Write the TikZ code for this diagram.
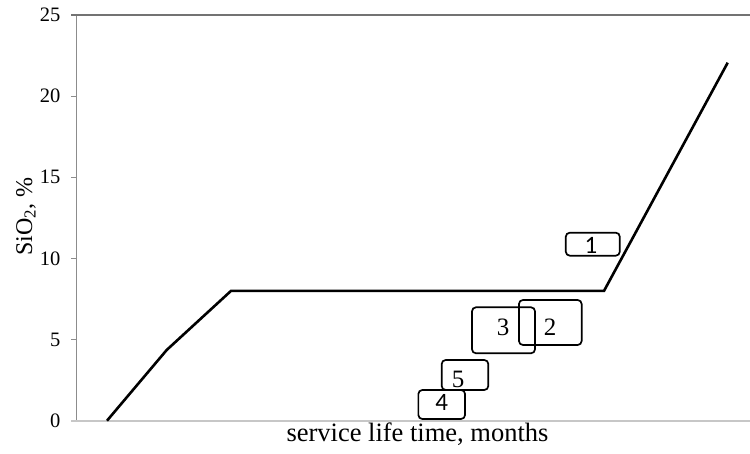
\documentclass[tikz,border=0pt]{standalone}
\usepackage{fontspec}
\setmainfont{Liberation Serif}
\newfontfamily\calib{Carlito}
\begin{document}
\begin{tikzpicture}[x=1pt,y=1pt,
  axisgray/.style={draw=black!45,line width=1pt},
  topline/.style={draw=black!55,line width=1.6pt},
  bottomaxis/.style={draw=black!22,line width=1.8pt},
  tick/.style={draw=black!45,line width=1pt},
  ticklabel/.style={anchor=east,inner sep=0pt,font=\fontsize{20.5}{20.5}\selectfont},
  curve/.style={draw=black,line width=2.6pt,line join=miter},
  numbox/.style={draw=black,line width=1.7pt,rounded corners=4pt,inner sep=0pt},
  numtext/.style={inner sep=0pt,font=\fontsize{25}{25}\selectfont},
  numsans/.style={inner sep=0pt,font=\calib\fontsize{25}{25}\selectfont}]
\useasboundingbox (0,0) rectangle (750,454);
% axes
\coordinate (o) at (76.5,33.3);
\coordinate (ytop) at (76.5,439);
\coordinate (xend) at (750,33.3);
\coordinate (tend) at (750,439);
\draw[axisgray] (o) -- (ytop);
\draw[bottomaxis] (71,33.3) -- (xend);
\draw[topline] (71,439) -- (tend);
\foreach \v in {5,10,15,20} {
  \draw[tick] (71,{33.3+16.228*\v}) -- (76.5,{33.3+16.228*\v});
}
\foreach \v in {0,5,10,15,20,25} {
  \node[ticklabel] (t\v) at (60.5,{33.3+16.228*\v}) {\v};
}
% titles
\node[rotate=90,anchor=base,inner sep=0pt,font=\fontsize{24}{24}\selectfont] (ylab) at (32,237.5) {SiO\textsubscript{2}, \%};
\node[anchor=base,inner sep=0pt,font=\fontsize{26.5}{26.5}\selectfont] (xlab) at (417.5,12) {service life time, months};
% curve
\coordinate (c0) at (107,33.3);
\coordinate (c1) at (166.7,104);
\coordinate (c2) at (231,163.1);
\coordinate (c3) at (604,163.1);
\coordinate (c4) at (727.7,391.3);
\draw[curve] (c0) -- (c1) -- (c2) -- (c3) -- (c4);
% boxes
\node[numbox,minimum width=54pt,minimum height=23pt] (b1) at (592.8,209.8) {};
\node[numsans] (n1) at (591,208.5) {1};
\node[numbox,minimum width=62.7pt,minimum height=45pt] (b2) at (550.3,131.5) {};
\node[numtext] (n2) at (550,126.5) {2};
\node[numbox,minimum width=63pt,minimum height=46pt] (b3) at (503.5,123.7) {};
\node[numtext] (n3) at (503,126.5) {3};
\node[numbox,minimum width=46.6pt,minimum height=30pt] (b5) at (465,79) {};
\node[numtext] (n5) at (458,74.5) {5};
\node[numbox,minimum width=46.7pt,minimum height=29pt] (b4) at (441.7,49.5) {};
\node[numsans] (n4) at (441.7,51.5) {4};
\end{tikzpicture}
\end{document}
